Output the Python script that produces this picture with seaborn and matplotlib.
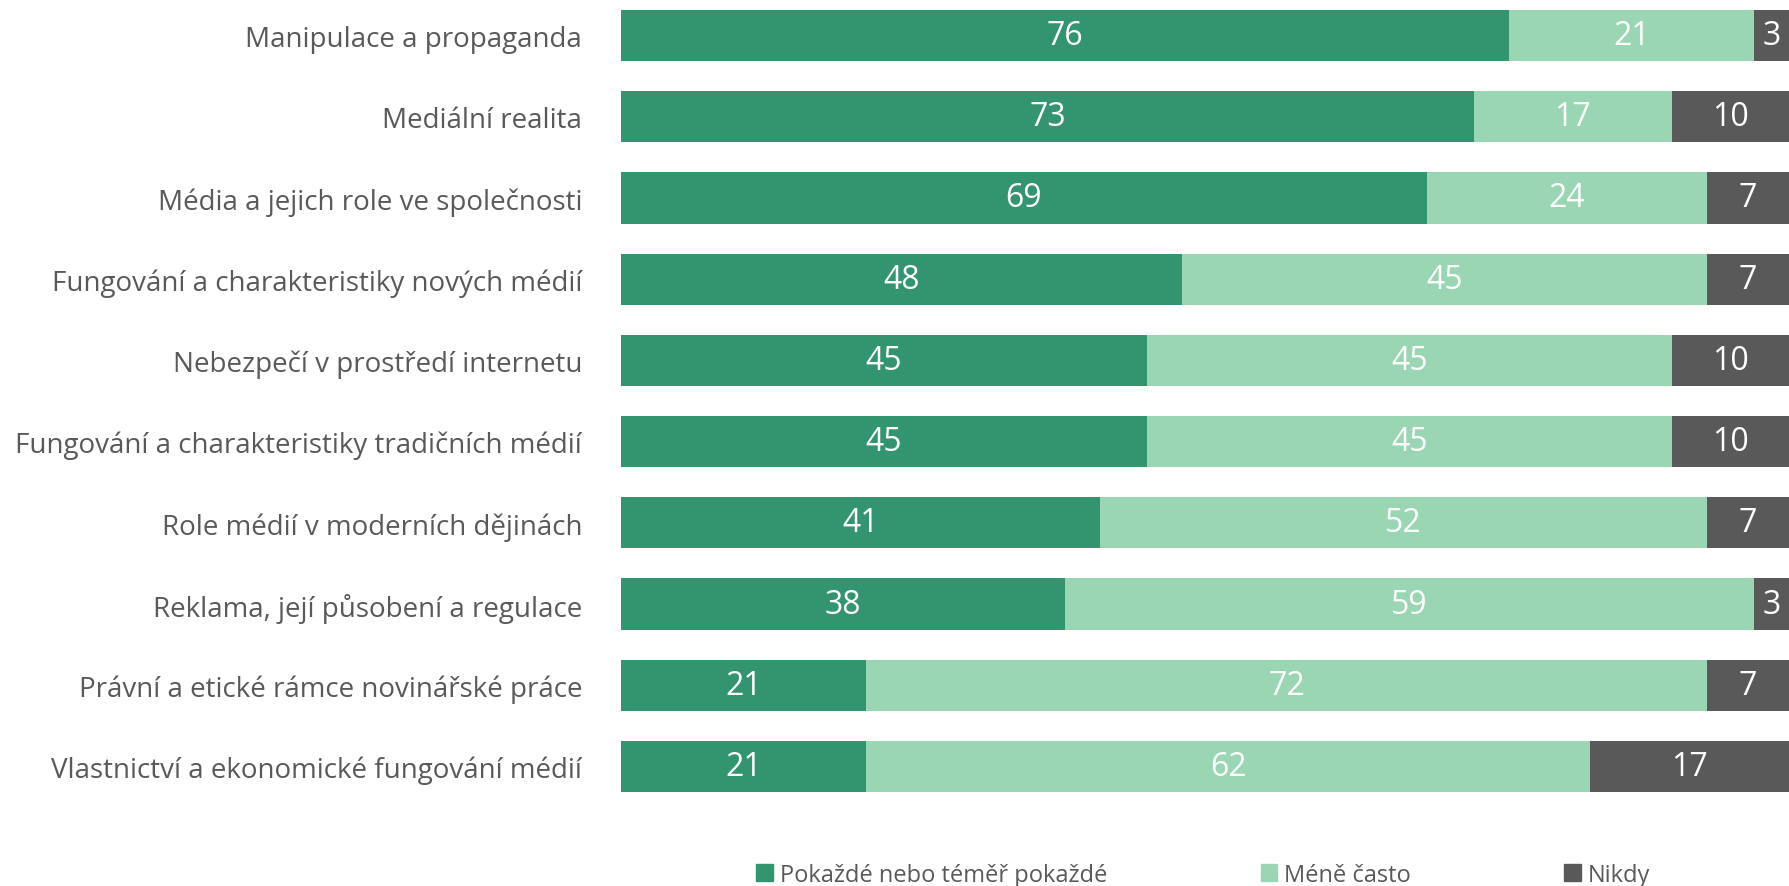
import numpy as np
import pandas as pd
import matplotlib.pyplot as plt
import seaborn as sns
from matplotlib.patches import Patch

categories = [
    "Manipulace a propaganda",
    "Mediální realita",
    "Média a jejich role ve společnosti",
    "Fungování a charakteristiky nových médií",
    "Nebezpečí v prostředí internetu",
    "Fungování a charakteristiky tradičních médií",
    "Role médií v moderních dějinách",
    "Reklama, její působení a regulace",
    "Právní a etické rámce novinářské práce",
    "Vlastnictví a ekonomické fungování médií",
]
always = [76, 73, 69, 48, 45, 45, 41, 38, 21, 21]
less_often = [21, 17, 24, 45, 45, 45, 52, 59, 72, 62]
never = [3, 10, 7, 7, 10, 10, 7, 3, 7, 17]
series_names = ["Pokaždé nebo téměř pokaždé", "Méně často", "Nikdy"]

colors = ["#339470", "#9BD6B4", "#595959"]
text_grey = "#595959"

sns.set_theme(style="white")
plt.rcParams['font.family'] = ['Open Sans', 'DejaVu Sans']

df = pd.DataFrame({"cat": categories, "a": always, "b": less_often, "c": never})
df["cum1"] = df["a"]
df["cum2"] = df["a"] + df["b"]
df["cum3"] = df["cum2"] + df["c"]

W, H = 1789, 887
fig = plt.figure(figsize=(W / 100, H / 100), dpi=100)
top_px, bot_px = 4, 800
ax = fig.add_axes([621 / W, 1 - bot_px / H, 1 - 621 / W, (bot_px - top_px) / H])

# stacked bars drawn as layered cumulative totals
for col, c in zip(["cum3", "cum2", "cum1"], colors[::-1]):
    sns.barplot(data=df, y="cat", x=col, orient="h", color=c, width=0.63,
                saturation=1, ax=ax, edgecolor="none")

for i, row in df.iterrows():
    for v, end in [(row["a"], row["cum1"]), (row["b"], row["cum2"]), (row["c"], row["cum3"])]:
        ax.text(end - v / 2, i, f"{v}", ha="center", va="center",
                color="white", fontsize=23)

ax.set_xlim(0, 100)
ax.set_ylim(9.4, -0.4)
ax.set_xlabel("")
ax.set_ylabel("")
ax.set_xticks([])
ax.tick_params(axis="y", length=0, pad=28, labelsize=20, labelcolor=text_grey)
for s in ax.spines.values():
    s.set_visible(False)

handles = [Patch(color=c, label=n) for c, n in zip(colors, series_names)]
fig.legend(handles=handles, ncol=3, loc="center", bbox_to_anchor=(0.6726, 1 - 876 / H),
           frameon=False, fontsize=17, labelcolor=text_grey, handlelength=0.7,
           handleheight=0.7, handletextpad=0.3, columnspacing=6.5)

fig.savefig("out.png", dpi=100)
